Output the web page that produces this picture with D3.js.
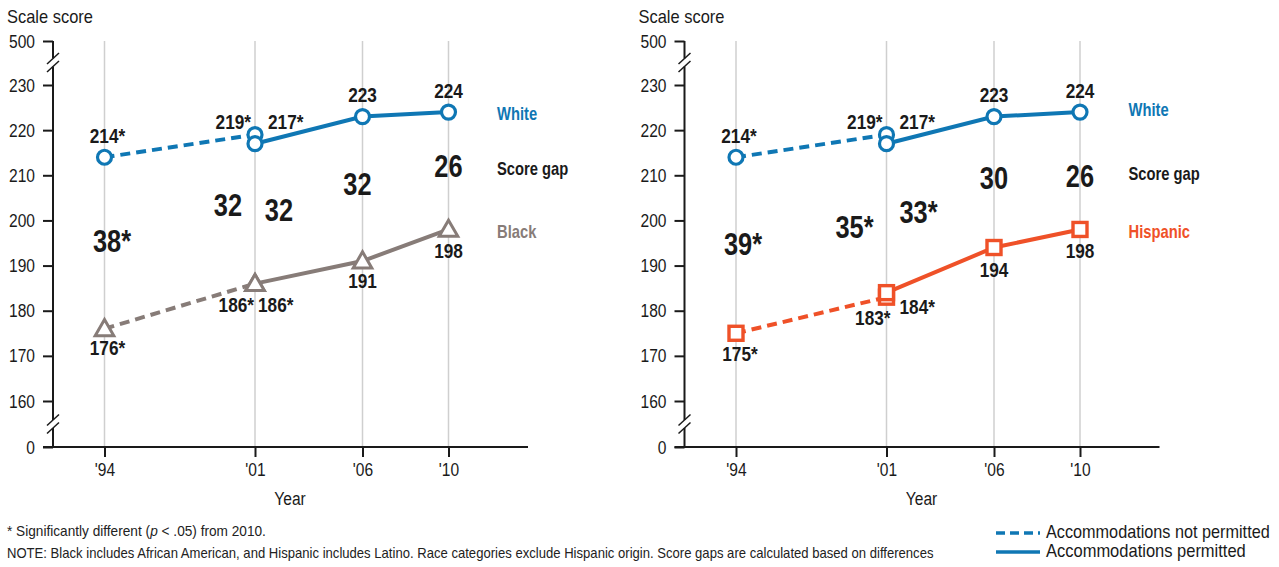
<!DOCTYPE html>
<html><head><meta charset="utf-8">
<script src="https://cdn.jsdelivr.net/npm/d3@7"></script>
<style>
html,body{margin:0;padding:0;background:#fff;}
svg{display:block;}
text{font-family:'Liberation Sans',Arial,sans-serif;}
</style></head>
<body>
<svg id="chart" width="1279" height="567"></svg>
<script>
// ---------- data ----------
const years = [1994, 2001, 2001, 2006, 2010];
const accommodationsPermitted = [false, false, true, true, true];
const yearTicks = [1994, 2001, 2006, 2010];
const yearTickLabels = ["'94", "'01", "'06", "'10"];
const yTicks = [0, 160, 170, 180, 190, 200, 210, 220, 230, 500];
const whiteScores = [214, 219, 217, 223, 224];
const whiteLabels = ["214*", "219*", "217*", "223", "224"];
const blackScores = [176, 186, 186, 191, 198];
const blackLabels = ["176*", "186*", "186*", "191", "198"];
const hispanicScores = [175, 183, 184, 194, 198];
const hispanicLabels = ["175*", "183*", "184*", "194", "198"];
const blackGaps = ["38*", "32", "32", "32", "26"];
const hispanicGaps = ["39*", "35*", "33*", "30", "26"];
const seriesNames = ["White", "Score gap", "Black", "Hispanic"];
const legendLabels = ["Accommodations not permitted", "Accommodations permitted"];
const footnoteParts = ["* Significantly different (", "p", " < .05) from 2010."];
const noteText = "NOTE: Black includes African American, and Hispanic includes Latino. Race categories exclude Hispanic origin. Score gaps are calculated based on differences";

// ---------- styles / layout ----------
const BLUE = "#0f77b4", GRAY = "#877c78", ORANGE = "#ef5128", INK = "#1a1a1a";
const NARROW = 0.82;
const svg = d3.select("#chart");

const x = d3.scaleLinear().domain([1994, 2001]).range([104.5, 255]);
const y = d3.scaleLinear().domain([0, 160, 230, 500]).range([447, 401, 85, 41]);

// label layout offsets [dx, dy, anchor]
const whiteLab = [[3, -21, "middle"], [-4, -13, "end"], [13, -22, "start"], [0, -22, "middle"], [0, -21, "middle"]];
const blackLab = [[3, 19, "middle"], [-1, 21, "end"], [3, 21, "start"], [0, 20, "middle"], [0, 21, "middle"]];
const hispLab  = [[4, 21, "middle"], [4, 21, "end"], [13, 14, "start"], [0, 22, "middle"], [0, 21, "middle"]];
const blackGapPos = [[7.5, -1.6], [-27, -4], [24, -4], [-5, -5], [0, -5]];
const hispGapPos  = [[7, -1], [-32, 11], [32, -6], [0, -4], [0, 5]];

// horizontally condense text around its anchor x (emulates a narrow typeface)
function squash(sel, len) {
  sel.each(function () {
    const w = this.getComputedTextLength();
    const k = len != null ? len / w : NARROW;
    const x0 = +(this.getAttribute("x") || 0);
    d3.select(this).attr("transform", `translate(${x0 * (1 - k)},0) scale(${k},1)`);
  });
}

function drawPanel(ox, other, otherLabels, otherLab, gaps, gapPos, otherName, color, marker, namePos) {
  const g = svg.append("g").attr("transform", `translate(${ox},0)`);
  const ax = 53;

  g.selectAll(".grid").data(yearTicks).enter().append("line")
    .attr("x1", d => x(d)).attr("x2", d => x(d))
    .attr("y1", y(500)).attr("y2", y(0))
    .attr("stroke", "#cfcfcf").attr("stroke-width", 1.5);

  const yAxis = d3.axisLeft(y).tickValues(yTicks).tickFormat(d3.format("d")).tickSize(10).tickPadding(8);
  const ya = g.append("g").attr("transform", `translate(${ax},0)`).call(yAxis);
  ya.select(".domain").remove();
  ya.selectAll(".tick line").attr("stroke", INK).attr("stroke-width", 2);
  ya.selectAll(".tick text").attr("fill", INK).style("font-size", "19px").style("font-family", "'Liberation Sans',Arial,sans-serif").call(squash);

  const segs = [[y(500), 58.5], [66.5, 420], [428, y(0)]];
  segs.forEach(s => g.append("line").attr("x1", ax).attr("x2", ax).attr("y1", s[0]).attr("y2", s[1])
    .attr("stroke", INK).attr("stroke-width", 2));
  [62.5, 424].forEach(c => {
    [-4, 4].forEach(o => {
      g.append("line").attr("x1", ax - 6).attr("y1", c + o + 5.5).attr("x2", ax + 6).attr("y2", c + o - 5.5)
        .attr("stroke", INK).attr("stroke-width", 1.5);
    });
  });

  const xAxis = d3.axisBottom(x).tickValues(yearTicks).tickFormat((d, i) => yearTickLabels[i]).tickSize(10).tickPadding(6).tickSizeOuter(0);
  const xa = g.append("g").attr("transform", `translate(0,${y(0)})`).call(xAxis);
  xa.select(".domain").remove();
  xa.selectAll(".tick line").attr("stroke", INK).attr("stroke-width", 2);
  xa.selectAll(".tick text").attr("fill", INK).style("font-size", "19px").style("font-family", "'Liberation Sans',Arial,sans-serif").call(squash);
  g.append("line").attr("x1", 43).attr("x2", 528).attr("y1", y(0)).attr("y2", y(0)).attr("stroke", INK).attr("stroke-width", 2);

  g.append("text").attr("x", 7).attr("y", 23).attr("fill", INK).style("font-size", "19px").text("Scale score").call(squash, 86);
  g.append("text").attr("x", 290).attr("y", 505).attr("text-anchor", "middle").attr("fill", INK).style("font-size", "19px").text("Year").call(squash);

  const idx = d3.range(years.length);
  function drawSeries(scores, col) {
    const notIdx = idx.filter(i => !accommodationsPermitted[i]);
    const yesIdx = idx.filter(i => accommodationsPermitted[i]);
    const line = d3.line().x(i => x(years[i])).y(i => y(scores[i]));
    g.append("path").attr("d", line(notIdx)).attr("fill", "none").attr("stroke", col)
      .attr("stroke-width", 4).attr("stroke-dasharray", "10,6");
    g.append("path").attr("d", line(yesIdx)).attr("fill", "none").attr("stroke", col).attr("stroke-width", 4);
  }
  drawSeries(whiteScores, BLUE);
  drawSeries(other, color);

  g.selectAll(".wm").data(idx).enter().append("circle")
    .attr("cx", i => x(years[i])).attr("cy", i => y(whiteScores[i])).attr("r", 7)
    .attr("fill", "#fff").attr("stroke", BLUE).attr("stroke-width", 3.2);
  if (marker === "triangle") {
    const sym = d3.symbol().type(d3.symbolTriangle).size(150);
    g.selectAll(".om").data(idx).enter().append("path")
      .attr("d", sym).attr("transform", i => `translate(${x(years[i])},${y(other[i]) + 1.5})`)
      .attr("fill", "#fff").attr("stroke", color).attr("stroke-width", 3);
  } else {
    g.selectAll(".om").data(idx).enter().append("rect")
      .attr("x", i => x(years[i]) - 7).attr("y", i => y(other[i]) - 7).attr("width", 14).attr("height", 14)
      .attr("fill", "#fff").attr("stroke", color).attr("stroke-width", 3.4);
  }

  const labStyle = sel => sel.attr("fill", INK).style("font-size", "21px").style("font-weight", "bold").attr("dominant-baseline", "central");
  g.selectAll(".wl").data(idx).enter().append("text")
    .attr("x", i => x(years[i]) + whiteLab[i][0]).attr("y", i => y(whiteScores[i]) + whiteLab[i][1])
    .attr("text-anchor", i => whiteLab[i][2]).text(i => whiteLabels[i]).call(labStyle).call(squash);
  g.selectAll(".ol").data(idx).enter().append("text")
    .attr("x", i => x(years[i]) + otherLab[i][0]).attr("y", i => y(other[i]) + otherLab[i][1])
    .attr("text-anchor", i => otherLab[i][2]).text(i => otherLabels[i]).call(labStyle).call(squash);

  g.selectAll(".gl").data(idx).enter().append("text")
    .attr("x", i => x(years[i]) + gapPos[i][0])
    .attr("y", i => y((whiteScores[i] + other[i]) / 2) + gapPos[i][1])
    .attr("text-anchor", "middle").attr("dominant-baseline", "central")
    .attr("fill", INK).style("font-size", "31px").style("font-weight", "bold").text(i => gaps[i]).call(squash);

  const nm = [[seriesNames[0], BLUE, namePos[0]], [seriesNames[1], INK, namePos[1]], [otherName, color, namePos[2]]];
  nm.forEach(n => g.append("text").attr("x", 497).attr("y", n[2]).attr("dominant-baseline", "central")
    .attr("fill", n[1]).style("font-size", "18px").style("font-weight", "bold").text(n[0]).call(squash));
}

drawPanel(0, blackScores, blackLabels, blackLab, blackGaps, blackGapPos, seriesNames[2], GRAY, "triangle", [113, 168, 231]);
drawPanel(631.5, hispanicScores, hispanicLabels, hispLab, hispanicGaps, hispGapPos, seriesNames[3], ORANGE, "square", [109, 173, 231]);

// footnote line 1 as sequential pieces, total width fitted to the reference
const fParts = footnoteParts.map((t, i) => svg.append("text").attr("y", 536).attr("fill", "#222").style("font-size", "14px")
  .style("font-style", i === 1 ? "italic" : "normal").style("white-space", "pre").text(t));
const fTotal = d3.sum(fParts, el => el.node().getComputedTextLength());
const fk = 259 / fTotal;
let fx = 7;
fParts.forEach(el => {
  const w = el.node().getComputedTextLength() * fk;
  el.attr("x", fx).call(squash, w);
  fx += w;
});
svg.append("text").attr("x", 7).attr("y", 558).attr("fill", "#222").style("font-size", "14px").text(noteText).call(squash, 927);

const lg = svg.append("g");
[[533, "9,5"], [552, null]].forEach((r, i) => {
  lg.append("line").attr("x1", 996).attr("x2", 1040).attr("y1", r[0]).attr("y2", r[0])
    .attr("stroke", BLUE).attr("stroke-width", 3.5).attr("stroke-dasharray", r[1]);
  lg.append("text").attr("x", 1046).attr("y", r[0] - 1).attr("dominant-baseline", "central")
    .attr("fill", INK).style("font-size", "18px").text(legendLabels[i]).call(squash, i === 0 ? 224 : 200);
});
</script>
</body></html>
